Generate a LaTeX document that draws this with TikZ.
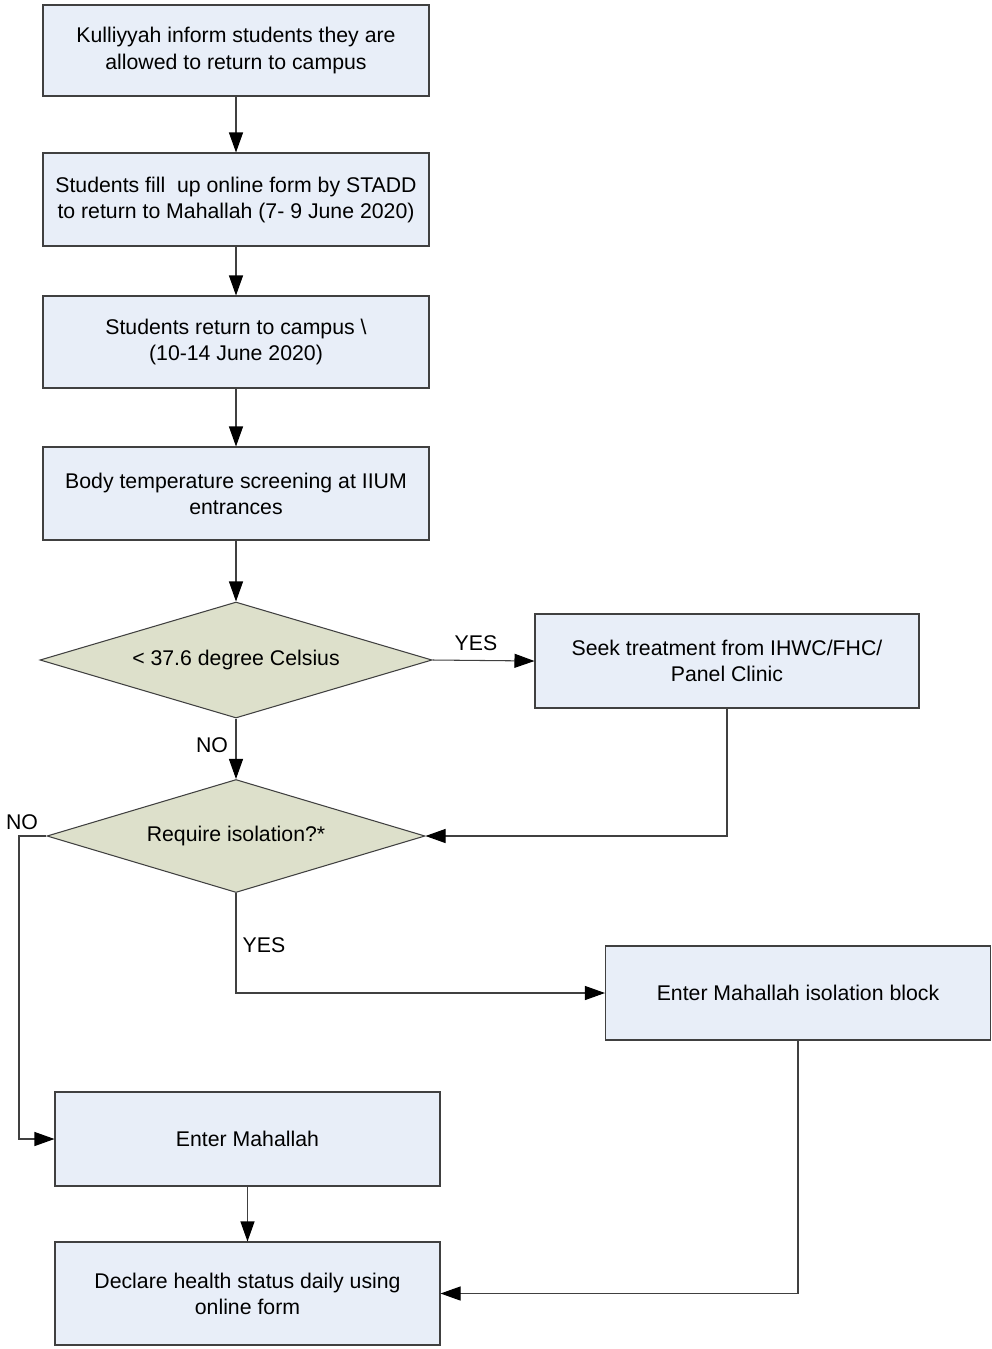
\documentclass[tikz,border=0pt]{standalone}
\usepackage{fontspec}
\setmainfont{Liberation Sans}
\usetikzlibrary{shapes.geometric,arrows.meta}

\definecolor{boxfill}{HTML}{E8EEF8}
\definecolor{decfill}{HTML}{DDE0CB}
\definecolor{edgegray}{HTML}{404040}

\begin{document}
\begin{tikzpicture}[font=\fontsize{12.1}{14.8}\selectfont]
%% one unit of the reference drawing is 0.02cm, y grows downwards
%% boxes and decisions are placed at fixed coordinates
\tikzstyle{arc}=[-{Triangle[length=4mm,width=2.8mm,color=black]},draw=edgegray,line width=0.6pt]
\tikzstyle{process}=[rectangle,draw=edgegray,fill=boxfill,line width=0.6pt,align=center,minimum width=7.72cm,minimum height=1.86cm,inner sep=2pt]
\tikzstyle{decision}=[diamond,draw=edgegray,fill=decfill,line width=0.6pt,align=center,aspect=3,inner sep=0pt]
\tikzstyle{answer}=[inner sep=1pt]
\useasboundingbox (0,0) rectangle (19.82,-26.98);
%% TikZ-figure elements %%
\node[process,minimum height=1.82cm] at (4.72,-1.01) (Inform) {Kulliyyah inform students they are\\allowed to return to campus};
\node[process] at (4.72,-3.99) (FillForm) {Students fill\ \ up online form by STADD\\to return to Mahallah (7- 9 June 2020)};
\node[process,minimum height=1.84cm] at (4.72,-6.84) (Return) {Students return to campus \textbackslash\\(10-14 June 2020)};
\node[process] at (4.72,-9.87) (Screening) {Body temperature screening at IIUM\\entrances};
\node[decision,minimum width=7.84cm,minimum height=2.32cm] at (4.72,-13.2) (TempCheck) {< 37.6 degree Celsius};
\node[process,minimum width=7.68cm,minimum height=1.88cm] at (14.54,-13.22) (Treatment) {Seek treatment from IHWC/FHC/\\Panel Clinic};
\node[decision,minimum width=7.56cm,minimum height=2.26cm] at (4.72,-16.72) (Isolation) {Require isolation?*};
\node[process,minimum width=7.7cm,minimum height=1.88cm] at (15.96,-19.86) (IsoBlock) {Enter Mahallah isolation block};
\node[process,minimum width=7.7cm,minimum height=1.88cm] at (4.95,-22.78) (Mahallah) {Enter Mahallah};
\node[process,minimum width=7.7cm,minimum height=2.06cm] at (4.95,-25.87) (Declare) {Declare health status daily using\\online form};
\coordinate (NoTurn) at (0.38,-16.72);
%% arcs
\draw[arc] (Inform) -- (FillForm);
\draw[arc] (FillForm) -- (Return);
\draw[arc] (Return) -- (Screening);
\draw[arc] (Screening) -- (TempCheck);
\draw[arc] (TempCheck.east) -- (Treatment.west);
%% label for arc between TempCheck and Treatment
\draw (9.52,-12.86) node[answer] {YES};
\draw[arc] (TempCheck.south) -- (Isolation.north);
%% label for arc between TempCheck and Isolation
\draw (4.24,-14.9) node[answer] {NO};
\draw[arc] (Treatment.south) |- (Isolation.east);
\draw[arc] (Isolation.west) -- (NoTurn) |- (Mahallah.west);
%% label for arc between Isolation and Mahallah
\draw (0.44,-16.44) node[answer] {NO};
\draw[arc] (Isolation.south) |- (IsoBlock.west);
%% label for arc between Isolation and IsoBlock
\draw (5.28,-18.9) node[answer] {YES};
\draw[arc] (IsoBlock.south) |- (Declare.east);
\draw[arc] (Mahallah) -- (Declare);
\end{tikzpicture}
\end{document}
